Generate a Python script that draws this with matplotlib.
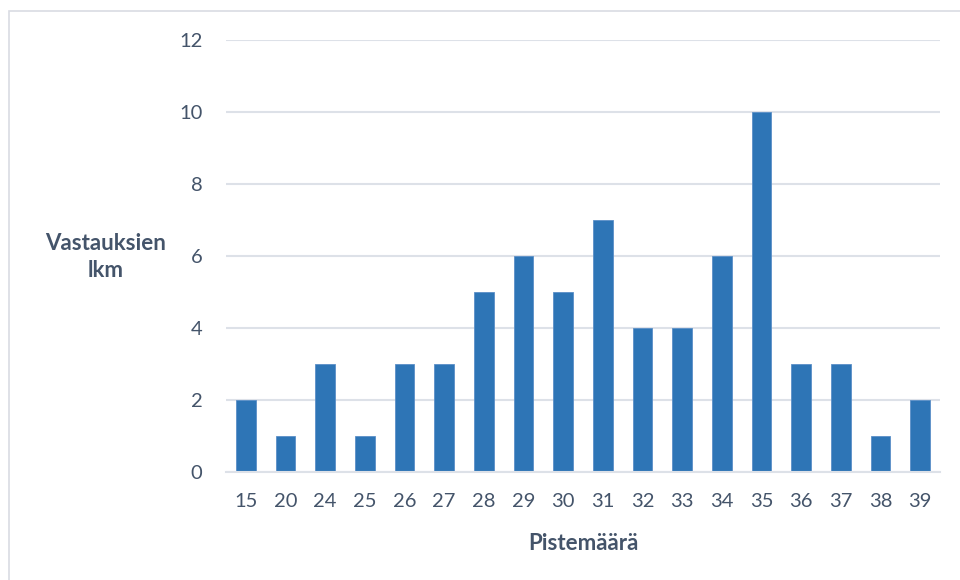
import matplotlib
matplotlib.use("Agg")
import matplotlib.pyplot as plt
from matplotlib.patches import Rectangle

# Score distribution: number of answers per total score
scores = ["15", "20", "24", "25", "26", "27", "28", "29", "30", "31",
          "32", "33", "34", "35", "36", "37", "38", "39"]
counts = [2, 1, 3, 1, 3, 3, 5, 6, 5, 7, 4, 4, 6, 10, 3, 3, 1, 2]
y_ticks = [0, 2, 4, 6, 8, 10, 12]

plt.rcParams["font.family"] = ["Lato", "DejaVu Sans"]
text_color = "#44546A"
bar_color = "#2E75B6"
grid_color = "#DDE1E8"

fig = plt.figure(figsize=(9.6, 5.8), dpi=100)
fig.patch.set_facecolor("white")

# Outer chart frame (open on the right and bottom)
fig.add_artist(Rectangle((9 / 960, -0.1), 2.0, 0.1 + (1 - 11 / 580),
                         transform=fig.transFigure, fill=False,
                         edgecolor="#D9DCE3", linewidth=1.2, clip_on=False))

ax = fig.add_axes([226 / 960, 1 - 472 / 580, 714 / 960, 432 / 580])
x = list(range(len(scores)))
ax.bar(x, counts, width=0.5, color=bar_color, edgecolor="#5B8FC7",
       linewidth=0.6, zorder=3)

ax.set_xlim(-0.5, len(scores) - 0.5)
ax.set_ylim(0, 12)
ax.set_yticks(y_ticks)
ax.set_xticks(x)
ax.set_xticklabels(scores)
ax.tick_params(axis="both", length=0, labelsize=14.5, colors=text_color)
ax.tick_params(axis="y", pad=17)
ax.tick_params(axis="x", pad=15)
ax.yaxis.grid(True, color=grid_color, linewidth=1.5, zorder=0)
for side in ["top", "right", "left"]:
    ax.spines[side].set_visible(False)
ax.spines["bottom"].set_color(grid_color)
ax.spines["bottom"].set_linewidth(1.5)
ax.spines["bottom"].set_zorder(4)

fig.text(106 / 960, 1 - 257 / 580, "Vastauksien\nlkm", ha="center", va="center",
         fontsize=16, fontweight="bold", color=text_color, linespacing=1.3)
fig.text(583 / 960, 1 - 544 / 580, "Pistemäärä", ha="center", va="center",
         fontsize=16, fontweight="bold", color=text_color)

fig.savefig("out.png", dpi=100, facecolor="white")
